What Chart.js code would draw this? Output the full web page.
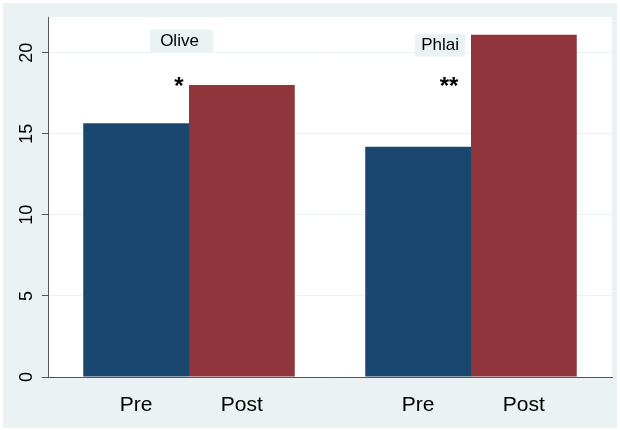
<!DOCTYPE html>
<html>
<head>
<meta charset="utf-8">
<script src="https://cdn.jsdelivr.net/npm/chart.js@4.4.1/dist/chart.umd.min.js"></script>
<style>
  html, body { margin: 0; padding: 0; background: #ffffff; }
  #wrap { width: 620px; height: 430px; position: relative; }
</style>
</head>
<body>
<div id="wrap"><canvas id="chart" width="620" height="430"></canvas></div>
<script>
// data
const groups = ['Olive', 'Phlai'];
const timeLabels = ['Pre', 'Post'];
const preValues = [15.65, 14.2];
const postValues = [18.0, 21.1];
const significance = ['*', '**'];
const yTicks = [0, 5, 10, 15, 20];

const BG = '#eaf2f3';
const FONT = '"Liberation Sans", Arial, sans-serif';

// backgrounds: light grey graph region, white plot region
const backdrop = {
  id: 'backdrop',
  beforeDraw(chart) {
    const { ctx, chartArea: a } = chart;
    ctx.save();
    ctx.fillStyle = BG;
    ctx.fillRect(3, 3, 614, 425);
    ctx.fillStyle = '#ffffff';
    ctx.fillRect(a.left, a.top, a.right - a.left, a.bottom - a.top);
    ctx.restore();
  }
};

// rotated y tick labels, Pre/Post labels, group boxes, stars
const annotations = {
  id: 'annotations',
  afterDraw(chart) {
    const { ctx } = chart;
    const y = chart.scales.y;
    const pre = chart.getDatasetMeta(0).data;
    const post = chart.getDatasetMeta(1).data;
    ctx.save();

    // y ticks, read bottom to top
    ctx.fillStyle = '#000';
    ctx.font = '18px ' + FONT;
    ctx.textAlign = 'center';
    ctx.textBaseline = 'middle';
    yTicks.forEach((t) => {
      ctx.save();
      ctx.translate(27, y.getPixelForValue(t));
      ctx.rotate(-Math.PI / 2);
      ctx.fillText(String(t), 0, 0);
      ctx.restore();
    });

    // Pre / Post under each bar
    ctx.font = '21px ' + FONT;
    ctx.textBaseline = 'middle';
    groups.forEach((g, i) => {
      ctx.fillText(timeLabels[0], pre[i].x, 405);
      ctx.fillText(timeLabels[1], post[i].x, 405);
    });

    // group label boxes
    const boxLeft = [pre[0].x + 14, pre[1].x - 3];
    const boxTop = [21.42, 21.17];
    ctx.font = '17px ' + FONT;
    groups.forEach((g, i) => {
      const w = ctx.measureText(g).width;
      const pad = i === 0 ? 12 : 6;
      const top = y.getPixelForValue(boxTop[i]);
      ctx.fillStyle = BG;
      ctx.fillRect(boxLeft[i], top, w + pad * 2, 23);
      ctx.fillStyle = '#000';
      ctx.textAlign = 'left';
      ctx.fillText(g, boxLeft[i] + (i === 0 ? 10 : 6), top + 12);
    });

    // significance stars
    ctx.font = 'bold 24px ' + FONT;
    ctx.textAlign = 'center';
    ctx.textBaseline = 'alphabetic';
    const starX = [pre[0].x + pre[0].width / 2 - 10, pre[1].x + pre[1].width / 2 - 22];
    significance.forEach((s, i) => {
      ctx.fillText(s, starX[i], y.getPixelForValue(18.3) + 14);
    });

    ctx.restore();
  }
};

new Chart(document.getElementById('chart'), {
  type: 'bar',
  data: {
    labels: groups,
    datasets: [
      { label: 'Pre', data: preValues, backgroundColor: '#1a476f' },
      { label: 'Post', data: postValues, backgroundColor: '#90353b' }
    ]
  },
  options: {
    responsive: false,
    animation: false,
    devicePixelRatio: 1,
    layout: { padding: { top: 17, right: 8, left: 0, bottom: 0 } },
    datasets: {
      bar: { categoryPercentage: 0.75, barPercentage: 1.0, borderWidth: 0 }
    },
    plugins: {
      legend: { display: false },
      tooltip: { enabled: false }
    },
    scales: {
      x: {
        ticks: { display: false },
        grid: { display: false, drawTicks: false },
        border: { display: true, color: '#555', width: 1 },
        afterFit: (s) => { s.height = 53; }
      },
      y: {
        min: 0,
        max: 22.2,
        afterBuildTicks: (s) => { s.ticks = yTicks.map((v) => ({ value: v })); },
        ticks: { display: false },
        grid: { color: BG, lineWidth: 1, tickLength: 6, tickColor: '#555', drawTicks: true },
        border: { display: true, color: '#555', width: 1 },
        afterFit: (s) => { s.width = 48; }
      }
    }
  },
  plugins: [backdrop, annotations]
});
</script>
</body>
</html>
